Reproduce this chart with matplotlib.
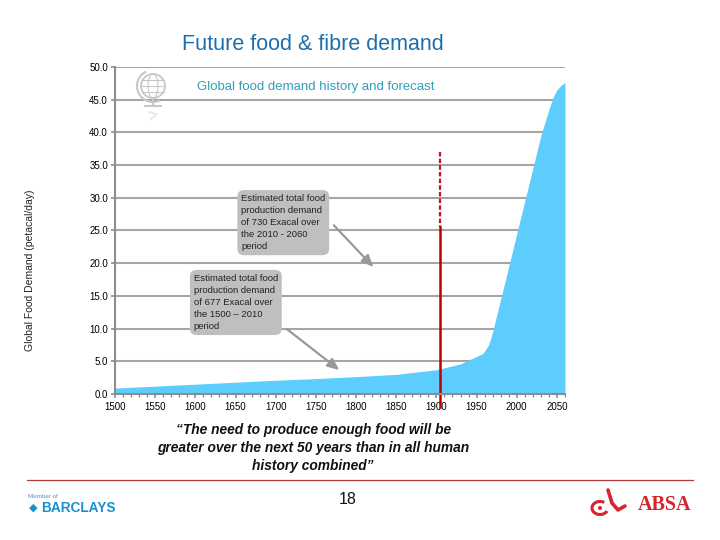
import matplotlib.pyplot as plt
from matplotlib.patches import Ellipse, Arc
from matplotlib.lines import Line2D

plt.rcParams['font.family'] = ['Liberation Sans', 'DejaVu Sans']

# данные
years = [1500, 1550, 1600, 1650, 1700, 1750, 1800, 1850, 1900, 1930, 1958, 1965,
         1970, 1980, 1990, 2000, 2010, 2020, 2030, 2040, 2045, 2050, 2055, 2060]
demand = [0.9, 1.2, 1.5, 1.8, 2.1, 2.35, 2.65, 3.0, 3.7, 4.6, 6.2, 7.5,
          9.5, 14.5, 19.5, 24.5, 29.5, 34.5, 39.5, 43.5, 45.3, 46.5, 47.2, 47.6]
x_ticks = [1500, 1550, 1600, 1650, 1700, 1750, 1800, 1850, 1900, 1950, 2000, 2050]
y_ticks = [0, 5, 10, 15, 20, 25, 30, 35, 40, 45, 50]
marker_year = 1904
marker_top = 37.0
marker_dash_end = 25.5

note_future = "Estimated total food\nproduction demand\nof 730 Exacal over\nthe 2010 - 2060\nperiod"
note_past = "Estimated total food\nproduction demand\nof 677 Exacal over\nthe 1500 \u2013 2010\nperiod"
quote = ("\u201cThe need to produce enough food will be\n"
         "greater over the next 50 years than in all human\n"
         "history combined\u201d")

W, H = 720, 540


def fx(px):
    return px / W


def fy(py):
    return 1 - py / H


fig = plt.figure(figsize=(7.2, 5.4), dpi=100)
ax = fig.add_axes([0.1597, 0.2704, 0.625, 0.6056])

# сетка и заливка
for v in y_ticks:
    ax.axhline(v, color='#a6a6a6', lw=1.5, zorder=1)
ax.fill_between(years, demand, 0, color='#5ccdfc', lw=0, zorder=2)

# красная линия
ax.plot([marker_year, marker_year], [marker_top, marker_dash_end], color='#c8102e',
        lw=1.6, ls=(0, (2, 1)), zorder=3)
ax.plot([marker_year, marker_year], [marker_dash_end, -2.0], color='#c00000',
        lw=1.8, zorder=3, clip_on=False)

ax.set_xlim(1500, 2060)
ax.set_ylim(0, 50)
ax.set_xticks(x_ticks)
ax.set_xticks(range(1500, 2061, 10), minor=True)
ax.set_yticks(y_ticks)
ax.set_yticklabels([f"{v:.1f}" for v in y_ticks])
ax.tick_params(axis='both', labelsize=7, color='#8c8c8c', length=3, width=1.2, pad=2)
ax.tick_params(axis='x', which='minor', length=2.5, color='#8c8c8c', width=1)
ax.tick_params(axis='x', pad=3)
for s in ['top', 'right']:
    ax.spines[s].set_visible(False)
for s in ['left', 'bottom']:
    ax.spines[s].set_color('#8c8c8c')
    ax.spines[s].set_linewidth(1.5)
    ax.spines[s].set_zorder(4)

# примечания со стрелками
box = dict(boxstyle='round,pad=0.4,rounding_size=0.7', fc='#bfbfbf', ec='none')
ax.text(1657, 30.6, note_future, fontsize=6.8, va='top', ha='left', color='#222222',
        linespacing=1.45, bbox=box, zorder=5)
ax.text(1598, 18.4, note_past, fontsize=6.8, va='top', ha='left', color='#222222',
        linespacing=1.45, bbox=box, zorder=5)
arrow = dict(arrowstyle='-|>,head_length=0.7,head_width=0.3', color='#999999', lw=1.6)
ax.annotate('', xy=(1824, 19.1), xytext=(1770, 26.1), arrowprops=arrow, zorder=6)
ax.annotate('', xy=(1782, 3.4), xytext=(1711, 10.2), arrowprops=arrow, zorder=6)

# заголовки
fig.text(0.435, fy(45), "Future food & fibre demand", fontsize=15.5, color='#1b6fae',
         ha='center', va='center')
fig.text(0.439, fy(87), "Global food demand history and forecast", fontsize=9.5,
         color='#2ea0b8', ha='center', va='center')
fig.text(0.042, 0.5, "Global Food Demand (petacal/day)", fontsize=7.5, rotation=90,
         ha='center', va='center', color='#222222')

# значок глобуса
gc = '#c8c8c8'
gx, gy = 153, 86
fig.add_artist(Ellipse((fx(gx), fy(gy)), 24 / W, 24 / H, transform=fig.transFigure,
                       fill=False, ec=gc, lw=1.3))
fig.add_artist(Ellipse((fx(gx), fy(gy)), 10 / W, 24 / H, transform=fig.transFigure,
                       fill=False, ec=gc, lw=0.8))
for dy in (-6, 0, 6):
    fig.add_artist(Line2D([fx(gx - 11), fx(gx + 11)], [fy(gy + dy)] * 2,
                          transform=fig.transFigure, color=gc, lw=0.8))
fig.add_artist(Arc((fx(gx), fy(gy)), 32 / W, 32 / H, theta1=110, theta2=290,
                   transform=fig.transFigure, color=gc, lw=1.5))
fig.add_artist(Line2D([fx(gx), fx(gx)], [fy(gy + 13), fy(gy + 20)],
                      transform=fig.transFigure, color=gc, lw=1.5))
fig.add_artist(Line2D([fx(gx - 8), fx(gx + 8)], [fy(gy + 20)] * 2,
                      transform=fig.transFigure, color=gc, lw=1.5))
fig.add_artist(Line2D([fx(gx - 4), fx(gx + 4), fx(gx - 2)], [fy(gy + 26), fy(gy + 28), fy(gy + 33)],
                      transform=fig.transFigure, color='#e6e6e6', lw=1.2))

# цитата
fig.text(0.435, fy(448), quote, fontsize=9.9, fontweight='bold', fontstyle='italic',
         ha='center', va='center', color='#111111', linespacing=1.4)

# нижний колонтитул
fig.add_artist(Line2D([fx(27), fx(693)], [fy(480)] * 2, transform=fig.transFigure,
                      color='#b03a3a', lw=0.9))
fig.text(fx(348), fy(500), "18", fontsize=11.5, ha='center', va='center',
         color='#111111')
fig.text(fx(28), fy(496), "Member of", fontsize=4.5, color='#5b8fc0',
         ha='left', va='center')
fig.text(fx(29), fy(508), "\u25c6", fontsize=8, color='#1a8fd0',
         ha='left', va='center')
fig.text(fx(41), fy(508), "BARCLAYS", fontsize=9.8, fontweight='bold',
         color='#1a8fd0', ha='left', va='center', fontstretch='condensed')
fig.text(fx(691), fy(505), "ABSA", fontsize=14.5, fontweight='bold',
         family='Liberation Serif', color='#d6252b', ha='right', va='center')
red = '#d6252b'
fig.add_artist(Arc((fx(600), fy(508)), 16 / W, 13 / H, theta1=60, theta2=330,
                   transform=fig.transFigure, color=red, lw=2.2))
fig.add_artist(Ellipse((fx(600), fy(508)), 4 / W, 4 / H, transform=fig.transFigure,
                       fc=red, ec='none'))
fig.add_artist(Line2D([fx(608), fx(612), fx(618), fx(625)],
                      [fy(490), fy(503), fy(510), fy(506)],
                      transform=fig.transFigure, color=red, lw=2.6,
                      solid_capstyle='round'))

fig.savefig('out.png', dpi=100)
